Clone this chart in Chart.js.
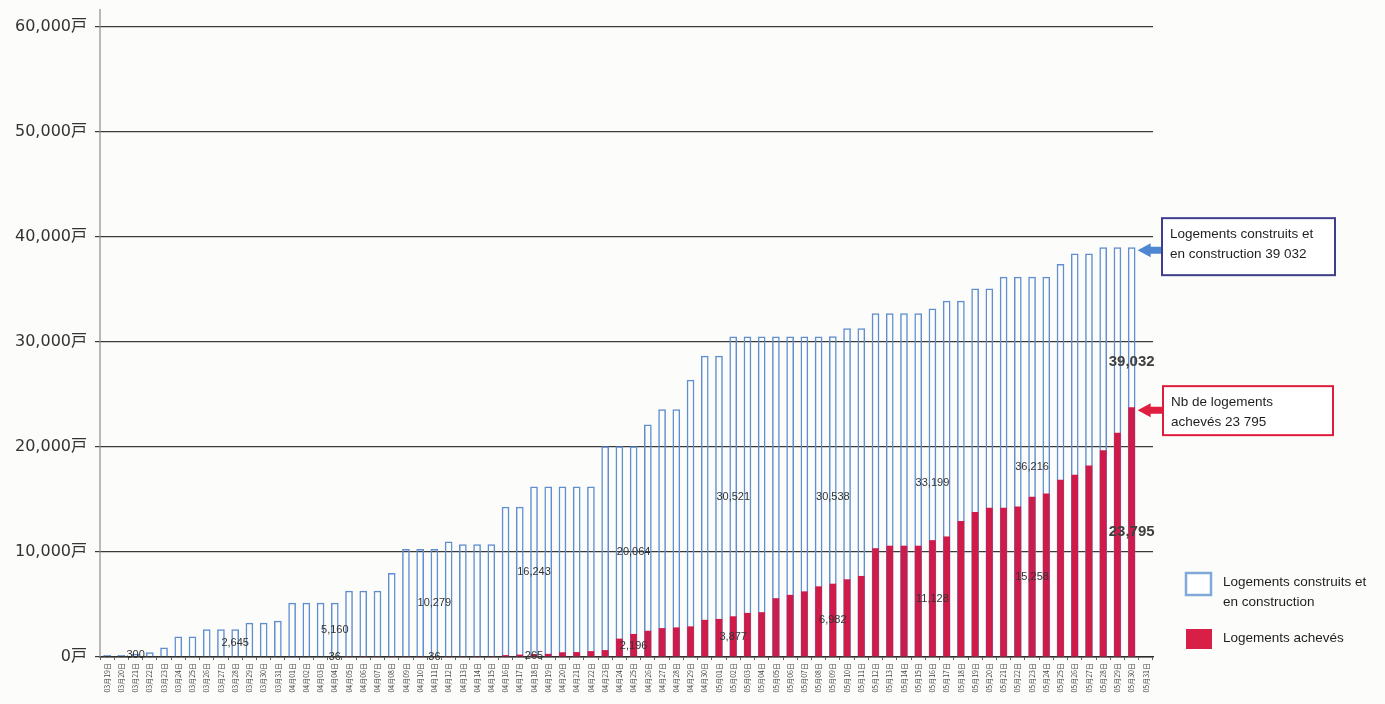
<!DOCTYPE html>
<html lang="fr">
<head>
<meta charset="utf-8">
<title>Logements construits et achevés</title>
<script src="https://cdn.jsdelivr.net/npm/chart.js@4/dist/chart.umd.min.js"></script>
<style>
  html, body { margin: 0; padding: 0; background: #fcfcfa; }
  #wrap { position: relative; width: 1385px; height: 704px; }
  canvas { display: block; }
</style>
</head>
<body>
<div id="wrap"><canvas id="chart" width="1385" height="704"></canvas></div>
<script>
// Jours (du 19 mars au 31 mai)
const days = [
  '03月19日','03月20日','03月21日','03月22日','03月23日','03月24日','03月25日','03月26日','03月27日','03月28日',
  '03月29日','03月30日','03月31日',
  '04月01日','04月02日','04月03日','04月04日','04月05日','04月06日','04月07日','04月08日','04月09日','04月10日',
  '04月11日','04月12日','04月13日','04月14日','04月15日','04月16日','04月17日','04月18日','04月19日','04月20日',
  '04月21日','04月22日','04月23日','04月24日','04月25日','04月26日','04月27日','04月28日','04月29日','04月30日',
  '05月01日','05月02日','05月03日','05月04日','05月05日','05月06日','05月07日','05月08日','05月09日','05月10日',
  '05月11日','05月12日','05月13日','05月14日','05月15日','05月16日','05月17日','05月18日','05月19日','05月20日',
  '05月21日','05月22日','05月23日','05月24日','05月25日','05月26日','05月27日','05月28日','05月29日','05月30日',
  '05月31日'
];

// Logements construits et en construction (cumul)
const builtUnits = [
  200, 200, 300, 450, 900, 1960, 1960, 2645, 2645, 2645,
  3260, 3260, 3460,
  5160, 5160, 5160, 5160, 6300, 6300, 6300, 8010, 10279, 10279,
  10279, 11000, 10730, 10730, 10730, 14300, 14300, 16243, 16243, 16243,
  16243, 16243, 20064, 20064, 20064, 22150, 23600, 23600, 26400, 28700,
  28700, 30521, 30521, 30521, 30521, 30521, 30521, 30521, 30538, 31310,
  31310, 32740, 32740, 32740, 32740, 33199, 33930, 33930, 35100, 35100,
  36216, 36216, 36216, 36216, 37430, 38420, 38420, 39032, 39032, 39032,
  null
];

// Logements achevés (cumul)
const completedUnits = [
  0, 0, 0, 0, 0, 0, 0, 0, 0, 0,
  0, 0, 0,
  0, 0, 0, 36, 36, 36, 36, 36, 36, 36,
  36, 36, 36, 36, 36, 180, 230, 265, 300, 450,
  470, 560, 660, 1750, 2196, 2500, 2750, 2820, 2920, 3540,
  3630, 3877, 4200, 4270, 5600, 5920, 6250, 6730, 6982, 7400,
  7720, 10360, 10600, 10600, 10600, 11128, 11480, 12960, 13820, 14210,
  14210, 14340, 15258, 15560, 16890, 17360, 18250, 19690, 21360, 23795,
  null
];

// Jours dont la valeur est affichée (hebdomadaire)
const builtLabelDays = ['03月21日','03月28日','04月04日','04月11日','04月18日','04月25日','05月02日','05月09日','05月16日','05月23日'];
const completedLabelDays = ['04月04日','04月11日','04月18日','04月25日','05月02日','05月09日','05月16日','05月23日'];
const lastDay = '05月30日';

// Graduations de l'axe vertical
const yTicks = [0, 10000, 20000, 30000, 40000, 50000, 60000];

const BLUE = '#5f8fd0';
const RED = '#cf1b49';
const fmt = v => v.toLocaleString('en-US');
const fmtFr = v => v.toLocaleString('en-US').replace(/,/g, ' ');

const overlay = {
  id: 'overlay',
  beforeDraw(chart) {
    const c = chart.ctx;
    c.save();
    c.fillStyle = '#fcfcfa';
    c.fillRect(0, 0, chart.width, chart.height);
    c.restore();
  },
  afterDatasetsDraw(chart) {
    const c = chart.ctx;
    const x = chart.scales.x, y = chart.scales.y;
    const area = chart.chartArea;

    // axe vertical
    c.save();
    c.strokeStyle = '#8c8c8c';
    c.lineWidth = 1.2;
    c.beginPath();
    c.moveTo(area.left, area.top - 18);
    c.lineTo(area.left, area.bottom);
    c.stroke();

    // valeurs hebdomadaires, au milieu des barres
    c.font = '11px "Liberation Sans", Arial, sans-serif';
    c.fillStyle = '#333333';
    c.textAlign = 'center';
    c.textBaseline = 'middle';
    builtLabelDays.forEach(d => {
      const i = days.indexOf(d);
      const v = builtUnits[i];
      c.fillText(fmt(v), x.getPixelForValue(i), y.getPixelForValue(v / 2));
    });
    completedLabelDays.forEach(d => {
      const i = days.indexOf(d);
      const v = completedUnits[i];
      c.fillText(fmt(v), x.getPixelForValue(i), y.getPixelForValue(v / 2));
    });

    // dernier jour : valeurs en gras
    const li = days.indexOf(lastDay);
    const lb = builtUnits[li], lc = completedUnits[li];
    const lx = x.getPixelForValue(li);
    c.font = 'bold 15px "Liberation Sans", Arial, sans-serif';
    c.fillStyle = '#404040';
    c.fillText(fmt(lb), lx, y.getPixelForValue(lc + (lb - lc) * 0.28));
    c.fillText(fmt(lc), lx, y.getPixelForValue(lc / 2));

    // encadrés avec flèches
    const arrow = (tipX, cy, tailX, color) => {
      c.fillStyle = color;
      c.beginPath();
      c.moveTo(tipX, cy);
      c.lineTo(tipX + 13, cy - 7);
      c.lineTo(tipX + 13, cy - 3.5);
      c.lineTo(tailX, cy - 3.5);
      c.lineTo(tailX, cy + 3.5);
      c.lineTo(tipX + 13, cy + 3.5);
      c.lineTo(tipX + 13, cy + 7);
      c.closePath();
      c.fill();
    };
    const box = (bx, by, bw, bh, color, lines) => {
      c.fillStyle = '#ffffff';
      c.fillRect(bx, by, bw, bh);
      c.strokeStyle = color;
      c.lineWidth = 2;
      c.strokeRect(bx, by, bw, bh);
      c.fillStyle = '#1e1e1e';
      c.font = '13.5px "Liberation Sans", Arial, sans-serif';
      c.textAlign = 'left';
      c.textBaseline = 'middle';
      lines.forEach((t, k) => c.fillText(t, bx + 8, by + 16 + k * 20));
    };
    const tipX = lx + 6;
    const by1 = y.getPixelForValue(lb);
    arrow(tipX, by1 + 3, area.right + 9, '#4e86d2');
    box(area.right + 9, by1 - 29, 173, 57, '#3e3e8c',
        ['Logements construits et', 'en construction ' + fmtFr(lb)]);
    const by2 = y.getPixelForValue(lc);
    arrow(tipX, by2 + 3, area.right + 10, '#e01f40');
    box(area.right + 10, by2 - 21, 170, 49, '#e01c3d',
        ['Nb de logements', 'achevés ' + fmtFr(lc)]);

    // légende
    const gx = area.right + 33;
    const gy = y.getPixelForValue(0);
    c.fillStyle = '#ffffff';
    c.fillRect(gx, gy - 84, 25, 22);
    c.strokeStyle = '#80a8da';
    c.lineWidth = 2.5;
    c.strokeRect(gx, gy - 84, 25, 22);
    c.fillStyle = '#d81f47';
    c.fillRect(gx, gy - 28, 26, 20);
    c.fillStyle = '#1e1e1e';
    c.font = '13.5px "Liberation Sans", Arial, sans-serif';
    c.textAlign = 'left';
    c.textBaseline = 'middle';
    c.fillText('Logements construits et', gx + 37, gy - 75);
    c.fillText('en construction', gx + 37, gy - 55);
    c.fillText('Logements achevés', gx + 37, gy - 19);
    c.restore();
  }
};

new Chart(document.getElementById('chart'), {
  type: 'bar',
  data: {
    labels: days,
    datasets: [
      {
        label: 'Logements achevés',
        data: completedUnits,
        backgroundColor: RED,
        borderWidth: 0,
        barPercentage: 0.47,
        categoryPercentage: 1,
        grouped: false,
        order: 0
      },
      {
        label: 'Logements construits et en construction',
        data: builtUnits,
        backgroundColor: 'rgba(255,255,255,0)',
        borderColor: BLUE,
        borderWidth: 1.5,
        barPercentage: 0.54,
        categoryPercentage: 1,
        grouped: false,
        order: 1
      }
    ]
  },
  options: {
    responsive: false,
    animation: false,
    layout: { padding: { top: 27, right: 232, left: 0, bottom: 0 } },
    plugins: { legend: { display: false }, tooltip: { enabled: false } },
    scales: {
      x: {
        grid: { drawOnChartArea: false, drawTicks: true, tickLength: 3, color: '#666', offset: true },
        border: { color: '#2e2e2e', width: 1.5 },
        ticks: {
          autoSkip: false, minRotation: 90, maxRotation: 90, padding: 3,
          color: '#444',
          font: { family: '"Noto Sans CJK JP", sans-serif', size: 7 }
        },
        afterFit: s => { s.height = 47; }
      },
      y: {
        min: 0, max: 60000,
        afterBuildTicks: s => { s.ticks = yTicks.map(v => ({ value: v })); },
        grid: { color: '#3a3a3a', lineWidth: 1.2, tickLength: 5 },
        border: { display: false },
        ticks: {
          padding: 8,
          color: '#333',
          font: { family: '"DejaVu Sans", "Noto Sans CJK JP", sans-serif', size: 16 },
          callback: v => fmt(v) + '戸'
        },
        afterFit: s => { s.width = 100; }
      }
    }
  },
  plugins: [overlay]
});
</script>
</body>
</html>
